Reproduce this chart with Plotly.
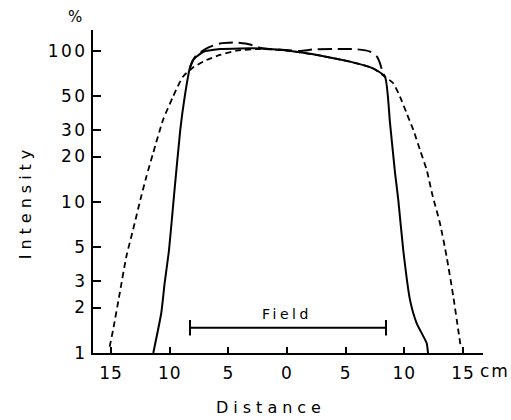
import plotly.graph_objects as go

# Solid profile
solid_x = [-11.4, -10.72, -10.43, -10.06, -9.63, -9.10, -8.72, -8.29, -8.01, -7.16, -5.7, -4.0,
           -2.3, 0.0, 1.11, 3.0, 5.37, 7.33, 8.35, 8.78, 9.21, 9.49, 9.91, 10.49, 11.06, 11.91, 12.02]
solid_y = [1.0, 1.84, 2.91, 4.81, 11.1, 30.0, 49.8, 76.8, 87.2, 98.5, 103, 104,
           104, 100.7, 98.0, 92.7, 85.0, 76.8, 67.6, 33.4, 15.6, 10.3, 4.81, 2.24, 1.57, 1.16, 1.0]

# Long-dashed profile (top part, with horns)
dash_x = [-8.29, -7.84, -6.85, -5.71, -4.43, -3.15, -2.13, -0.17, 1.11, 2.22, 3.92, 5.97,
          7.08, 7.67, 7.93, 8.18, 8.35]
dash_y = [76.8, 91.3, 104.2, 112.1, 113.8, 110.4, 104.2, 101.6, 100.0, 102.3, 103.1, 102.6,
          99.0, 91.7, 82.9, 71.2, 67.6]

# Short-dashed (wide) profile
dot_x = [-15.12, -14.83, -14.26, -13.70, -13.13, -12.42, -11.99, -11.42, -10.57, -9.72, -8.87,
         -8.01, -6.85, -5.71, -4.29, -2.3, 0.0, 1.11, 3.0, 5.37, 7.33, 8.35, 9.06, 9.63, 10.20,
         10.77, 11.34, 11.91, 12.40, 13.04, 13.61, 14.18, 14.60, 14.81]
dot_y = [1.10, 1.42, 2.49, 4.34, 6.53, 10.96, 14.7, 21.0, 34.9, 49.8, 67.6,
         77.8, 87.2, 94.1, 100.5, 103, 100.7, 98, 92.7, 85, 76.8, 67.6, 61.1, 49.8, 38.7,
         30.0, 22.1, 16.3, 11.1, 7.23, 4.34, 2.36, 1.42, 1.10]

# Field bar
field_x = [-8.27, 8.44]
field_y = [1.47, 1.47]

x_tickvals = [-15, -10, -5, 0, 5, 10, 15]
x_ticktext = ["15", "10", "5", "0", "5", "10", "15"]
y_tickvals = [1, 2, 3, 5, 10, 20, 30, 50, 100]
y_ticktext = ["1", "2", "3", "5", "10", "20", "30", "50", "100"]

FONT = "DejaVu Sans"
ls = lambda t, s: f'<span style="letter-spacing:{s}px">{t}</span>'

fig = go.Figure()
fig.add_trace(go.Scatter(x=dot_x, y=dot_y, mode="lines",
                         line=dict(color="black", width=1.8, dash="6px,4px",
                                   shape="spline", smoothing=0.6)))
fig.add_trace(go.Scatter(x=dash_x, y=dash_y, mode="lines",
                         line=dict(color="black", width=2, dash="14px,6px",
                                   shape="spline", smoothing=0.6)))
fig.add_trace(go.Scatter(x=solid_x, y=solid_y, mode="lines",
                         line=dict(color="black", width=2, shape="spline", smoothing=0.5)))
fig.add_trace(go.Scatter(x=field_x, y=field_y, mode="lines+markers",
                         line=dict(color="black", width=1.8),
                         marker=dict(symbol="line-ns", size=11,
                                     line=dict(color="black", width=2))))

ann = dict(xref="paper", yref="paper", showarrow=False, xanchor="center", yanchor="middle")

fig.update_layout(
    width=511, height=420,
    margin=dict(l=93, r=28, t=30, b=67),
    plot_bgcolor="white", paper_bgcolor="white",
    showlegend=False,
    font=dict(family=FONT, color="black", size=17),
    xaxis=dict(range=[-16.54, 16.71], tickvals=x_tickvals,
               ticktext=[ls(t, 1) for t in x_ticktext],
               showline=True, linecolor="black", linewidth=2,
               ticks="inside", ticklen=6, tickwidth=1.5, tickcolor="black",
               ticklabelstandoff=4,
               showgrid=False, zeroline=False),
    yaxis=dict(type="log", range=[0, 2.139], tickvals=y_tickvals,
               ticktext=[ls(t, 2.5) for t in y_ticktext],
               showline=True, linecolor="black", linewidth=2,
               ticks="inside", ticklen=8, tickwidth=1.5, tickcolor="black",
               showgrid=False, zeroline=False),
    annotations=[
        dict(ann, text="%", x=-0.046, y=1.040, font=dict(size=15)),
        dict(ann, text=ls("Intensity", 5), x=-0.174, y=0.467, textangle=-90,
             font=dict(size=16)),
        dict(ann, text=ls("Distance", 5), x=0.456, y=-0.170, font=dict(size=16)),
        dict(text=ls("Field", 3.5), x=0, y=0.176, xref="x", yref="y",
             showarrow=False, font=dict(size=14), yshift=12),
        dict(ann, text=ls("cm", 2), x=1.03, y=-0.0557, font=dict(size=17)),
    ],
)

fig.write_html("out.html", config={"displayModeBar": False},
               post_script="document.body.style.margin='0';")
